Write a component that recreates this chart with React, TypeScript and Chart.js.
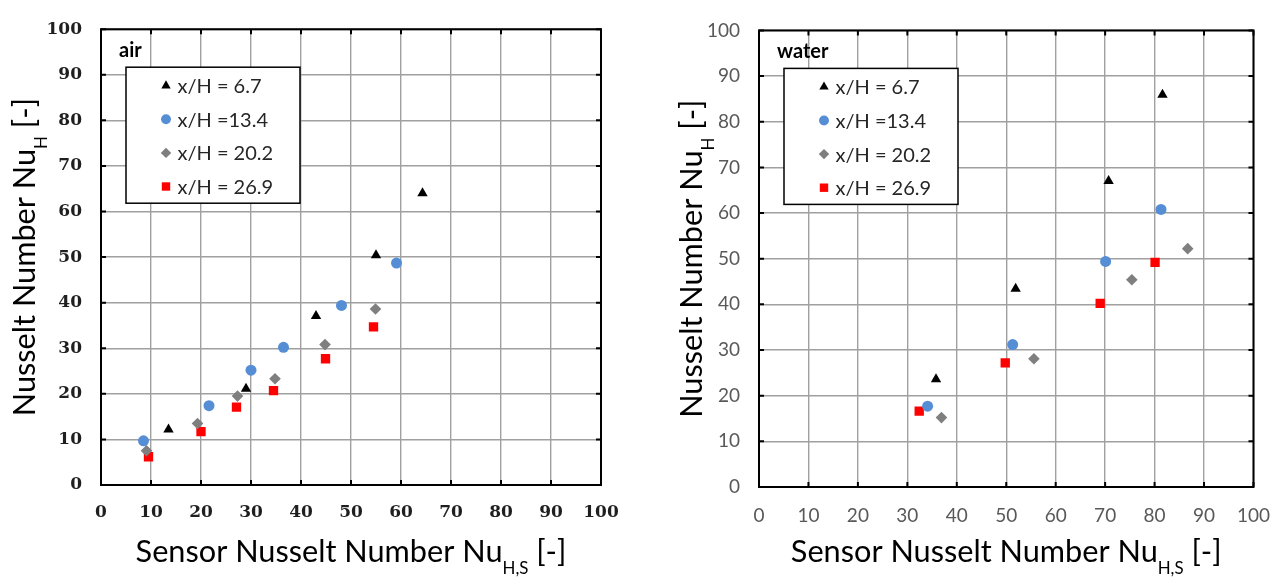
import React, { useEffect, useRef } from "react";
import { Chart, registerables } from "chart.js";

Chart.register(...registerables);

// ---------- data ----------
const seriesLabels = ["x/H = 6.7", "x/H =13.4", "x/H = 20.2", "x/H = 26.9"];
const seriesColors = ["#000000", "#558ED5", "#7F7F7F", "#FF0000"];
const seriesShapes = ["triangle", "circle", "rectRot", "rect"];
const seriesRadii = [6.0, 5.5, 5.8, 6.6];

const tickValues = [0, 10, 20, 30, 40, 50, 60, 70, 80, 90, 100];

// air
const airTriX = [13.5, 29.0, 43.0, 55.0, 64.3];
const airTriY = [12.2, 21.1, 37.1, 50.4, 64.0];
const airCircX = [8.5, 21.6, 30.0, 36.5, 48.1, 59.1];
const airCircY = [9.7, 17.4, 25.2, 30.2, 39.4, 48.7];
const airDiaX = [9.1, 19.3, 27.3, 34.8, 44.8, 54.9];
const airDiaY = [7.5, 13.5, 19.5, 23.3, 30.8, 38.6];
const airSqX = [9.5, 20.0, 27.1, 34.5, 44.9, 54.5];
const airSqY = [6.2, 11.7, 17.1, 20.7, 27.7, 34.7];

// water
const waterTriX = [35.8, 51.9, 70.7, 81.6];
const waterTriY = [23.6, 43.4, 67.0, 85.9];
const waterCircX = [34.1, 51.3, 70.1, 81.3];
const waterCircY = [17.7, 31.2, 49.4, 60.8];
const waterDiaX = [36.9, 55.6, 75.4, 86.7];
const waterDiaY = [15.2, 28.1, 45.4, 52.2];
const waterSqX = [32.4, 49.8, 69.0, 80.1];
const waterSqY = [16.6, 27.2, 40.2, 49.2];

const xTitleParts: [string, boolean][] = [
  ["Sensor Nusselt Number Nu", false],
  ["H,S", true],
  [" [-]", false],
];
const yTitleParts: [string, boolean][] = [
  ["Nusselt Number Nu", false],
  ["H", true],
  [" [-]", false],
];

// ---------- helpers ----------
function pts(xs: number[], ys: number[]) {
  return xs.map((x, i) => ({ x, y: ys[i] }));
}

function drawMarker(ctx: CanvasRenderingContext2D, shape: string, x: number, y: number, r: number, color: string) {
  ctx.save();
  ctx.fillStyle = color;
  ctx.beginPath();
  if (shape === "circle") {
    ctx.arc(x, y, r, 0, Math.PI * 2);
  } else if (shape === "triangle") {
    for (let k = 0; k < 3; k++) {
      const a = (k * 2 * Math.PI) / 3;
      const px = x + Math.sin(a) * r;
      const py = y - Math.cos(a) * r;
      if (k === 0) ctx.moveTo(px, py);
      else ctx.lineTo(px, py);
    }
    ctx.closePath();
  } else if (shape === "rectRot") {
    ctx.moveTo(x, y - r);
    ctx.lineTo(x + r, y);
    ctx.lineTo(x, y + r);
    ctx.lineTo(x - r, y);
    ctx.closePath();
  } else {
    const s = r * Math.SQRT1_2;
    ctx.rect(x - s, y - s, 2 * s, 2 * s);
  }
  ctx.fill();
  ctx.restore();
}

const TITLE_FAMILY = "Lato, 'Open Sans', sans-serif";

function titleSize(ctx: CanvasRenderingContext2D, target: number) {
  const base = 30;
  let w = 0;
  for (const [t, sub] of xTitleParts) {
    ctx.font = `${sub ? base * 0.55 : base}px ${TITLE_FAMILY}`;
    w += ctx.measureText(t).width;
  }
  return (base * target) / w;
}

function drawRich(
  ctx: CanvasRenderingContext2D,
  parts: [string, boolean][],
  x: number,
  y: number,
  angle: number,
  size: number,
  color: string
) {
  ctx.save();
  ctx.translate(x, y);
  ctx.rotate(angle);
  ctx.fillStyle = color;
  ctx.textBaseline = "alphabetic";
  ctx.textAlign = "left";
  const widths: number[] = [];
  let total = 0;
  for (const [t, sub] of parts) {
    ctx.font = `${sub ? size * 0.55 : size}px ${TITLE_FAMILY}`;
    const w = ctx.measureText(t).width;
    widths.push(w);
    total += w;
  }
  let cx = -total / 2;
  parts.forEach(([t, sub], i) => {
    ctx.font = `${sub ? size * 0.55 : size}px ${TITLE_FAMILY}`;
    ctx.fillText(t, cx, sub ? size * 0.4 : 0);
    cx += widths[i];
  });
  ctx.restore();
}

type PanelProps = {
  width: number;
  left: number;
  padRight: number;
  yWidth: number;
  xHeight: number;
  label: string;
  tickFont: { family: string; size: number; weight: string };
  tickColor: string;
  yTitleX: number;
  series: { xs: number[]; ys: number[] }[];
};

function Panel(props: PanelProps) {
  const ref = useRef<HTMLCanvasElement | null>(null);

  useEffect(() => {
    const canvas = ref.current;
    if (!canvas) return;

    const overlay = {
      id: "overlay",
      afterDatasetsDraw(chart: any) {
        const { ctx, chartArea: a, scales } = chart;
        const xs = scales.x;
        const ys = scales.y;
        ctx.save();
        // frame and inward ticks
        ctx.strokeStyle = "#000";
        ctx.lineWidth = 2;
        ctx.beginPath();
        for (const t of xs.ticks) {
          const p = xs.getPixelForValue(t.value);
          ctx.moveTo(p, a.top);
          ctx.lineTo(p, a.top + 5);
          ctx.moveTo(p, a.bottom);
          ctx.lineTo(p, a.bottom - 5);
        }
        for (const t of ys.ticks) {
          const p = ys.getPixelForValue(t.value);
          ctx.moveTo(a.left, p);
          ctx.lineTo(a.left + 5, p);
          ctx.moveTo(a.right, p);
          ctx.lineTo(a.right - 5, p);
        }
        ctx.stroke();
        ctx.strokeRect(a.left, a.top, a.right - a.left, a.bottom - a.top);

        // panel label
        ctx.fillStyle = "#000";
        ctx.font = `bold 20px ${TITLE_FAMILY}`;
        ctx.textBaseline = "alphabetic";
        ctx.textAlign = "left";
        ctx.fillText(props.label, a.left + 18, a.top + 28);

        // legend box
        const bx = a.left + 25;
        const by = a.top + 38;
        const bw = 174;
        const bh = 136;
        ctx.fillStyle = "#fff";
        ctx.fillRect(bx, by, bw, bh);
        ctx.lineWidth = 1.5;
        ctx.strokeStyle = "#000";
        ctx.strokeRect(bx, by, bw, bh);
        ctx.font = `20px ${TITLE_FAMILY}`;
        ctx.textBaseline = "middle";
        seriesLabels.forEach((lab, i) => {
          const ry = by + 18.5 + i * 33.6;
          drawMarker(ctx, seriesShapes[i], bx + 40, ry, seriesRadii[i] * 0.9, seriesColors[i]);
          ctx.fillStyle = "#262626";
          ctx.fillText(lab, bx + 51.5, ry + 1);
        });
        ctx.restore();
      },
      afterDraw(chart: any) {
        const { ctx, chartArea: a } = chart;
        const size = titleSize(ctx, 431);
        drawRich(ctx, xTitleParts, (a.left + a.right) / 2, 561.5, 0, size, "#000");
        drawRich(ctx, yTitleParts, props.yTitleX, (a.top + a.bottom) / 2, -Math.PI / 2, size, "#000");
      },
    };

    const datasets = props.series.map((s, i) => ({
      label: seriesLabels[i],
      data: pts(s.xs, s.ys),
      pointStyle: seriesShapes[i],
      pointRadius: seriesRadii[i],
      pointBackgroundColor: seriesColors[i],
      pointBorderWidth: 0,
      borderColor: seriesColors[i],
      backgroundColor: seriesColors[i],
      showLine: false,
    }));

    const axisCommon = {
      type: "linear" as const,
      min: 0,
      max: 100,
      afterBuildTicks: (s: any) => {
        s.ticks = tickValues.map((v) => ({ value: v }));
      },
      grid: { color: "#A0A0A0", lineWidth: 1.4, drawTicks: false },
      border: { display: false },
    };

    const chart = new Chart(canvas, {
      type: "scatter",
      data: { datasets },
      options: {
        animation: false,
        responsive: false,
        devicePixelRatio: 1,
        layout: { padding: { left: 0, right: props.padRight, top: 20, bottom: 0 } },
        plugins: { legend: { display: false }, tooltip: { enabled: false } },
        scales: {
          x: {
            ...axisCommon,
            position: "bottom",
            ticks: {
              font: props.tickFont,
              color: props.tickColor,
              padding: 17,
              maxRotation: 0,
              autoSkip: false,
            },
            afterFit: (s: any) => {
              s.height = props.xHeight;
            },
          },
          y: {
            ...axisCommon,
            position: "left",
            ticks: {
              font: props.tickFont,
              color: props.tickColor,
              padding: 19,
              autoSkip: false,
            },
            afterFit: (s: any) => {
              s.width = props.yWidth;
            },
          },
        },
      } as any,
      plugins: [overlay],
    });
    return () => chart.destroy();
  }, []);

  return (
    <canvas
      ref={ref}
      width={props.width}
      height={577}
      style={{ position: "absolute", left: props.left, top: 0, width: props.width, height: 577 }}
    />
  );
}

export default function App() {
  return (
    <div style={{ position: "absolute", left: 0, top: 0, width: 1287, height: 577, background: "#fff" }}>
      <Panel
        width={640}
        left={0}
        padRight={39}
        yWidth={101}
        xHeight={92}
        label="air"
        tickFont={{ family: "'DejaVu Serif', serif", size: 17, weight: "bold" }}
        tickColor="#1f1f1f"
        yTitleX={35}
        series={[
          { xs: airTriX, ys: airTriY },
          { xs: airCircX, ys: airCircY },
          { xs: airDiaX, ys: airDiaY },
          { xs: airSqX, ys: airSqY },
        ]}
      />
      <Panel
        width={647}
        left={640}
        padRight={24}
        yWidth={119}
        xHeight={90}
        label="water"
        tickFont={{ family: TITLE_FAMILY, size: 19, weight: "normal" }}
        tickColor="#595959"
        yTitleX={61.5}
        series={[
          { xs: waterTriX, ys: waterTriY },
          { xs: waterCircX, ys: waterCircY },
          { xs: waterDiaX, ys: waterDiaY },
          { xs: waterSqX, ys: waterSqY },
        ]}
      />
    </div>
  );
}
